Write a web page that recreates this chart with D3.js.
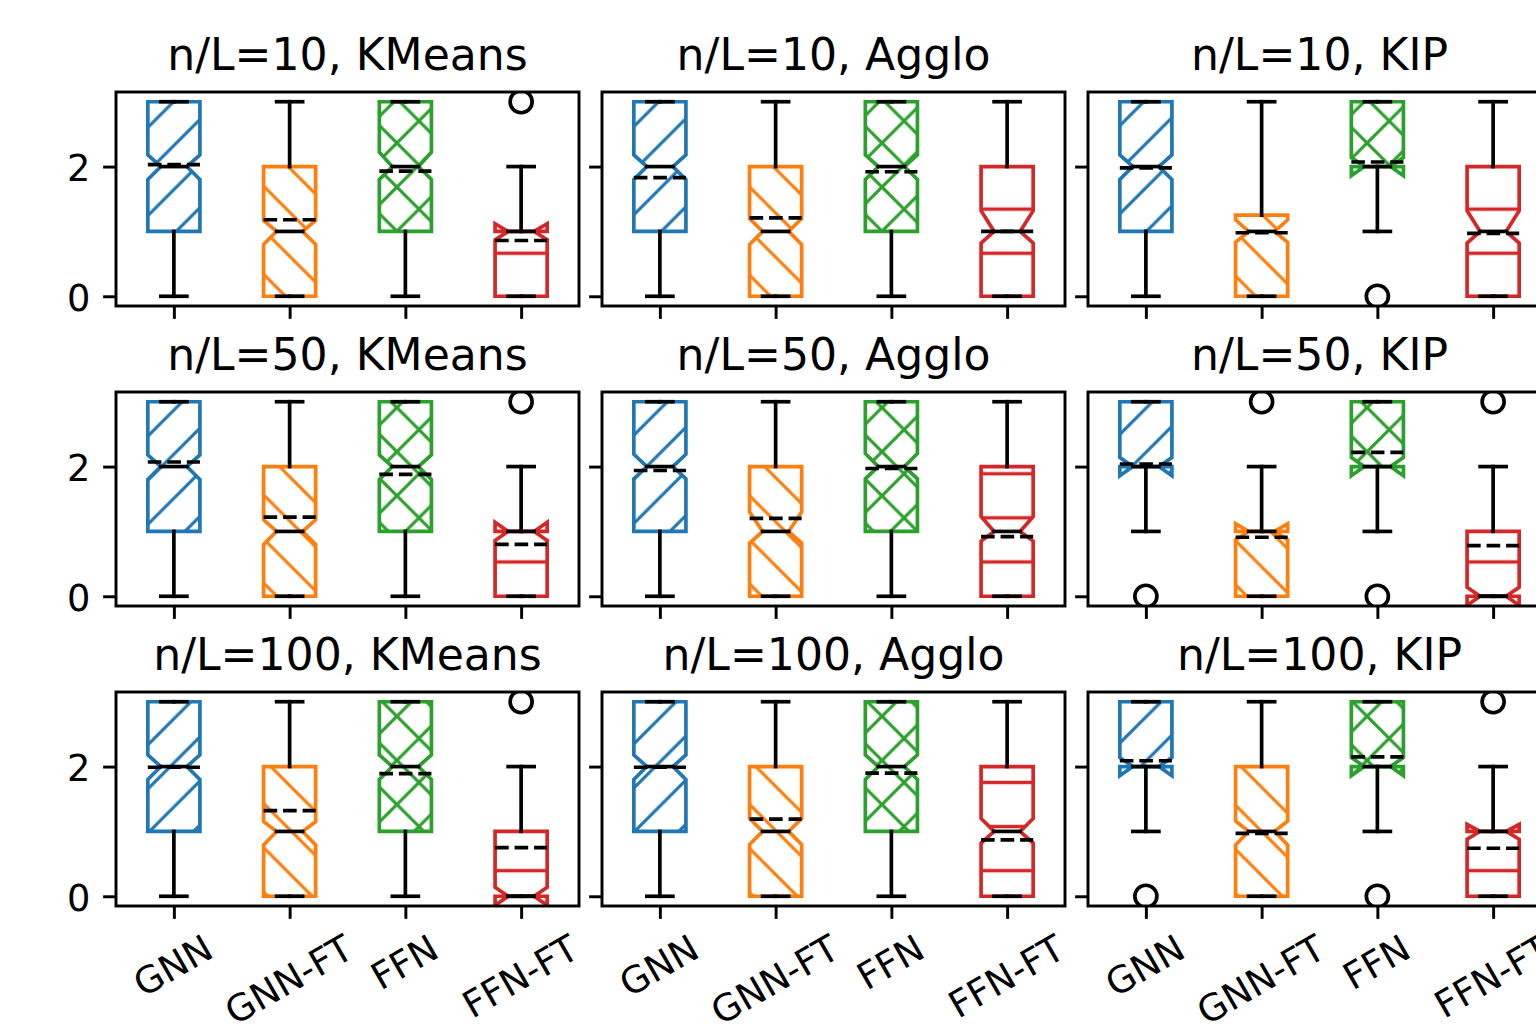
<!DOCTYPE html>
<meta charset="utf-8">
<style>

body {
  margin: 0;
  background: #fff;
}

svg {
  display: block;
  font-family: "DejaVu Sans", sans-serif;
}

.spine {
  fill: none;
  stroke: #000;
  stroke-width: 2.94px;
}

.whisker, .cap, .median {
  stroke: #000;
  stroke-width: 3.675px;
  stroke-linecap: square;
}

.mean {
  stroke: #000;
  stroke-width: 3.675px;
  stroke-dasharray: 13.6 5.9;
}

.flier {
  fill: none;
  stroke: #000;
  stroke-width: 3.675px;
}

.box {
  stroke-width: 3.675px;
  stroke-linejoin: miter;
}

</style>
<body>
<script src="https://d3js.org/d3.v7.min.js"></script>
<script>

var width = 1536,
    height = 1025;

var models = ["GNN", "GNN-FT", "FFN", "FFN-FT"];
var ratios = [10, 50, 100];
var methods = ["KMeans", "Agglo", "KIP"];
var yTicks = [0, 2];

// one row of four boxes per panel, panels in reading order
var q1 = [
  [1, 0, 1, 0], [1, 0, 1, 0], [1, 0, 2, 0],
  [1, 0, 1, 0], [1, 0, 1, 0], [2, 0, 2, 0],
  [1, 0, 1, 0], [1, 0, 1, 0], [2, 0, 2, 0]
];
var q3 = [
  [3, 2, 3, 1], [3, 2, 3, 2], [3, 1.25, 3, 2],
  [3, 2, 3, 1], [3, 2, 3, 2], [3, 1, 3, 1],
  [3, 2, 3, 1], [3, 2, 3, 2], [3, 2, 3, 1]
];
var medians = [
  [2, 1, 2, 1], [2, 1, 2, 1], [2, 1, 2, 1],
  [2, 1, 2, 1], [2, 1, 2, 1], [2, 1, 2, 0],
  [2, 1, 2, 0], [2, 1, 2, 1], [2, 1, 2, 1]
];
var means = [
  [2.03, 1.18, 1.93, 0.86], [1.83, 1.21, 1.92, 1.0], [1.98, 0.98, 2.07, 0.97],
  [2.07, 1.22, 1.88, 0.8], [1.94, 1.2, 1.97, 0.92], [2.04, 0.91, 2.22, 0.78],
  [1.99, 1.32, 1.89, 0.75], [1.99, 1.19, 1.9, 0.87], [2.09, 0.97, 2.15, 0.74]
];
var notchLo = [
  [1.8, 0.8, 1.8, 0.87], [1.8, 0.8, 1.8, 0.82], [1.8, 0.83, 1.86, 0.82],
  [1.8, 0.8, 1.8, 0.86], [1.81, 0.82, 1.81, 0.85], [1.86, 0.87, 1.86, -0.14],
  [1.8, 0.79, 1.8, -0.14], [1.8, 0.8, 1.8, 0.82], [1.86, 0.79, 1.86, 0.88]
];
var notchHi = [
  [2.18, 1.17, 2.22, 1.12], [2.18, 1.2, 2.18, 1.32], [2.18, 1.18, 2.14, 1.32],
  [2.18, 1.18, 2.18, 1.14], [2.19, 1.3, 2.2, 1.23], [2.14, 1.12, 2.14, 0.14],
  [2.18, 1.15, 2.18, 0.14], [2.18, 1.2, 2.18, 1.2], [2.14, 1.16, 2.14, 1.11]
];
var whiskLo = [
  [0, 0, 0, 0], [0, 0, 0, 0], [0, 0, 1, 0],
  [0, 0, 0, 0], [0, 0, 0, 0], [1, 0, 1, 0],
  [0, 0, 0, 0], [0, 0, 0, 0], [1, 0, 1, 0]
];
var whiskHi = [
  [3, 3, 3, 2], [3, 3, 3, 3], [3, 3, 3, 3],
  [3, 3, 3, 2], [3, 3, 3, 3], [3, 2, 3, 2],
  [3, 3, 3, 2], [3, 3, 3, 3], [3, 3, 3, 2]
];
var fliers = [
  [[], [], [], [3]], [[], [], [], []], [[], [], [0], []],
  [[], [], [], [3]], [[], [], [], []], [[0], [3], [0], [3]],
  [[], [], [], [3]], [[], [], [], []], [[0], [], [0], [3]]
];

var colors = ["#1f77b4", "#ff7f0e", "#2ca02c", "#d62728"];
var hatches = ["//", "\\\\", "xx", "-"];

// layout (pixels)
var colLeft = [116, 602, 1088],
    rowTop = [92, 392, 692],
    panelW = 463,
    panelH = 214;

var pt = 264.6 / 72;
var fsTitle = 12 * pt,
    fsTick = 10 * pt,
    tickLen = 3.5 * pt,
    tickPad = 3.5 * pt,
    titlePad = 6 * pt,
    flierR = 3 * pt,
    boxHalf = 0.225,
    notchHalf = 0.1125;

var svg = d3.select("body").append("svg")
    .attr("width", width)
    .attr("height", height);

var defs = svg.append("defs");

// hatch tiles, anchored to the bottom-left of the figure
var hs = 264.6 / 6,
    hy = height % hs;
var ne = "M" + (-hs / 2) + "," + (hs / 2) + "L" + (hs / 2) + "," + (-hs / 2) +
         "M0," + hs + "L" + hs + ",0" +
         "M" + (hs / 2) + "," + (1.5 * hs) + "L" + (1.5 * hs) + "," + (hs / 2);
var se = "M" + (-hs / 2) + "," + (hs / 2) + "L" + (hs / 2) + "," + (1.5 * hs) +
         "M0,0L" + hs + "," + hs +
         "M" + (hs / 2) + "," + (-hs / 2) + "L" + (1.5 * hs) + "," + (hs / 2);
var hatchPaths = {
  "//": ne,
  "\\\\": se,
  "xx": ne + se,
  "-": "M-2," + (hs / 2) + "L" + (hs + 2) + "," + (hs / 2)
};

hatches.forEach(function(h, k) {
  defs.append("pattern")
      .attr("id", "hatch" + k)
      .attr("patternUnits", "userSpaceOnUse")
      .attr("x", 0)
      .attr("y", hy)
      .attr("width", hs)
      .attr("height", hs)
    .append("path")
      .attr("d", hatchPaths[h])
      .attr("fill", "none")
      .attr("stroke", colors[k])
      .attr("stroke-width", 3.2);
});

var panels = [];
ratios.forEach(function(r, i) {
  methods.forEach(function(m, j) {
    panels.push({row: i, col: j, idx: i * 3 + j, title: "n/L=" + r + ", " + m});
  });
});

panels.forEach(function(p) {
  var left = colLeft[p.col],
      top = rowTop[p.row];

  var x = d3.scaleLinear().domain([0.5, 4.5]).range([left, left + panelW]);
  var y = d3.scaleLinear().domain([-0.15, 3.15]).range([top + panelH, top]);

  var line = d3.line()
      .x(function(d) { return x(d[0]); })
      .y(function(d) { return y(d[1]); });

  var stats = models.map(function(name, k) {
    return {
      k: k,
      pos: k + 1,
      q1: q1[p.idx][k],
      q3: q3[p.idx][k],
      med: medians[p.idx][k],
      mean: means[p.idx][k],
      cilo: notchLo[p.idx][k],
      cihi: notchHi[p.idx][k],
      lo: whiskLo[p.idx][k],
      hi: whiskHi[p.idx][k],
      fliers: fliers[p.idx][k]
    };
  });

  defs.append("clipPath")
      .attr("id", "clip" + p.idx)
    .append("rect")
      .attr("x", left)
      .attr("y", top)
      .attr("width", panelW)
      .attr("height", panelH);

  var g = svg.append("g")
      .attr("clip-path", "url(#clip" + p.idx + ")");

  g.selectAll(".box")
      .data(stats)
    .enter().append("path")
      .attr("class", "box")
      .attr("fill", function(d) { return "url(#hatch" + d.k + ")"; })
      .attr("stroke", function(d) { return colors[d.k]; })
      .attr("d", function(d) {
        var l = d.pos - boxHalf, r = d.pos + boxHalf,
            nl = d.pos - notchHalf, nr = d.pos + notchHalf;
        return line([
          [l, d.q1], [r, d.q1], [r, d.cilo], [nr, d.med], [r, d.cihi],
          [r, d.q3], [l, d.q3], [l, d.cihi], [nl, d.med], [l, d.cilo]
        ]) + "Z";
      });

  stats.forEach(function(d) {
    [[d.q1, d.lo], [d.q3, d.hi]].forEach(function(w) {
      g.append("path")
          .attr("class", "whisker")
          .attr("d", line([[d.pos, w[0]], [d.pos, w[1]]]));
    });
    [d.lo, d.hi].forEach(function(v) {
      g.append("path")
          .attr("class", "cap")
          .attr("d", line([[d.pos - notchHalf, v], [d.pos + notchHalf, v]]));
    });
    g.append("path")
        .attr("class", "median")
        .attr("d", line([[d.pos - notchHalf, d.med], [d.pos + notchHalf, d.med]]));
    d.fliers.forEach(function(v) {
      g.append("circle")
          .attr("class", "flier")
          .attr("cx", x(d.pos))
          .attr("cy", y(v))
          .attr("r", flierR);
    });
    g.append("path")
        .attr("class", "mean")
        .attr("d", line([[d.pos - boxHalf, d.mean], [d.pos + boxHalf, d.mean]]));
  });

  svg.append("rect")
      .attr("class", "spine")
      .attr("x", left)
      .attr("y", top)
      .attr("width", panelW)
      .attr("height", panelH);

  var yAxis = svg.append("g")
      .attr("transform", "translate(" + left + ",0)")
      .call(d3.axisLeft(y)
        .tickValues(yTicks)
        .tickSize(tickLen)
        .tickPadding(tickPad)
        .tickFormat(p.col === 0 ? d3.format("d") : function() { return ""; }));
  yAxis.select(".domain").remove();
  yAxis.attr("font-family", null).attr("font-size", null);
  yAxis.selectAll("line").attr("stroke-width", 0.8 * pt);
  yAxis.selectAll("text")
      .attr("font-size", fsTick)
      .attr("dy", "0.38em")
      .attr("fill", "#000");

  var xAxis = svg.append("g")
      .attr("transform", "translate(0," + (top + panelH) + ")")
      .call(d3.axisBottom(x)
        .tickValues([1, 2, 3, 4])
        .tickSize(tickLen)
        .tickPadding(tickPad)
        .tickFormat(p.row === 2 ? function(d) { return models[d - 1]; } : function() { return ""; }));
  xAxis.select(".domain").remove();
  xAxis.attr("font-family", null).attr("font-size", null);
  xAxis.selectAll("line").attr("stroke-width", 0.8 * pt);

  if (p.row === 2) {
    var a = Math.PI / 6,
        th = 0.968 * fsTick,
        td = 0.208 * fsTick;
    xAxis.selectAll("text")
        .attr("font-size", fsTick)
        .attr("fill", "#000")
        .attr("text-anchor", "middle")
        .attr("dy", null)
        .each(function() {
          var w = this.getComputedTextLength();
          var hr = w * Math.sin(a) + th * Math.cos(a);
          d3.select(this)
              .attr("y", th / 2 - td)
              .attr("transform", "translate(0," + (tickLen + tickPad + hr / 2) + ") rotate(-30)");
        });
  }

  svg.append("text")
      .attr("x", left + panelW / 2)
      .attr("y", top - titlePad)
      .attr("text-anchor", "middle")
      .attr("font-size", fsTitle)
      .text(p.title);
});

</script>
